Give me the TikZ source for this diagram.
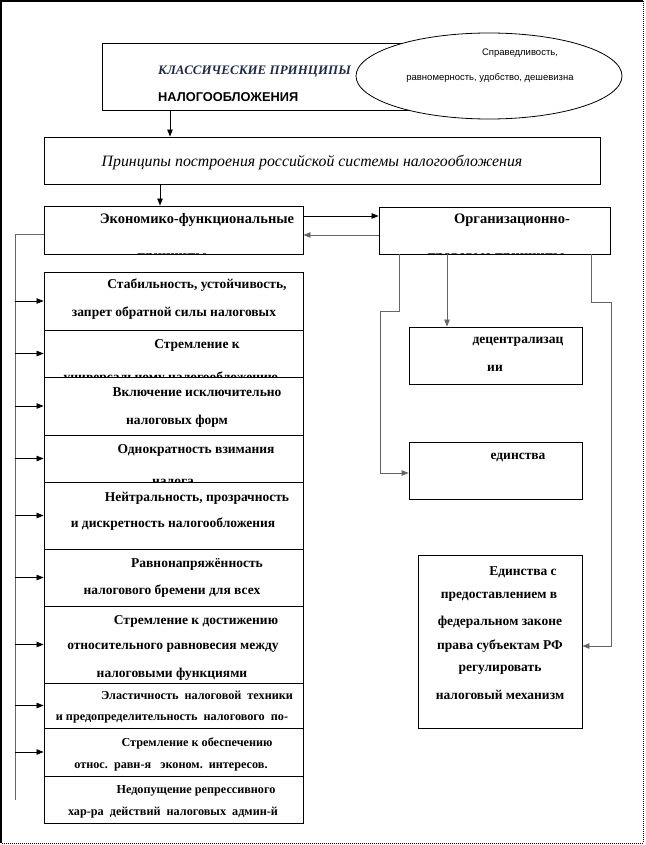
\documentclass[tikz,border=0pt]{standalone}
\usepackage{fontspec}
\setmainfont{Liberation Serif}
\newfontfamily\sansf{Liberation Sans}
\usetikzlibrary{arrows.meta,shapes.geometric}
\definecolor{navy}{HTML}{1F2A44}
\definecolor{lgray}{HTML}{666666}
\tikzset{
  box/.style={draw=black, line width=0.9pt, inner sep=0, fill=none},
  t/.style={inner sep=0, font=\bfseries\fontsize{13.5}{15}\selectfont},
  ts/.style={inner sep=0, font=\bfseries\fontsize{12.2}{14}\selectfont},
  arr/.style={line width=0.8pt, -{Triangle[length=7pt,width=5.5pt]}},
  ln/.style={line width=0.8pt, draw=lgray},
}
\begin{document}
\begin{tikzpicture}[x=1pt,y=-1pt]
\useasboundingbox (0,0) rectangle (645,845);
% frame
\draw[line width=1.6pt] (1,843) -- (1,1) -- (643,1);
\draw[line width=1pt, densely dotted] (643,1) -- (643,843) -- (1,843);

% top box and ellipse
\node[box, minimum width=418pt, minimum height=67pt] (top) at (311,76.5) {};
\node[draw=black, line width=0.8pt, fill=white, ellipse, inner sep=0, minimum width=266pt, minimum height=86pt] (ell) at (489,76) {};
\node[inner sep=0, anchor=west, text=navy, font=\bfseries\itshape\fontsize{13}{15}\selectfont] (t1) at (158,72) {КЛАССИЧЕСКИЕ ПРИНЦИПЫ};
\node[inner sep=0, anchor=west, font=\sansf\bfseries\fontsize{12.8}{14}\selectfont] (t2) at (158,97) {НАЛОГООБЛОЖЕНИЯ};
\node[inner sep=0, font=\sansf\fontsize{9.5}{11}\selectfont] (e1) at (520,53) {Справедливость,};
\node[inner sep=0, font=\sansf\fontsize{9.5}{11}\selectfont] (e2) at (490,78) {равномерность, удобство, дешевизна};

% second box
\node[box, minimum width=556pt, minimum height=47pt] (sec) at (322,160.5) {};
\node[inner sep=0, font=\itshape\fontsize{15.8}{17}\selectfont] (st) at (312,163) {Принципы построения российской системы налогообложения};

% header boxes
\node[box, minimum width=259pt, minimum height=48pt] (ek) at (173.5,230) {};
\node[box, minimum width=231pt, minimum height=47pt] (org) at (494.5,230.5) {};
\begin{scope}
\clip (44,206) rectangle (303,254);
\node[inner sep=0, font=\bfseries\fontsize{14.5}{16}\selectfont] (ek1) at (197,220) {Экономико-функциональные};
\node[inner sep=0, font=\bfseries\fontsize{14.5}{16}\selectfont] (ek2) at (172,259) {принципы};
\end{scope}
\begin{scope}
\clip (379,207) rectangle (610,254);
\node[inner sep=0, font=\bfseries\fontsize{14.5}{16}\selectfont] (or1) at (512,220) {Организационно-};
\node[inner sep=0, font=\bfseries\fontsize{14.5}{16}\selectfont] (or2) at (496,259) {правовые принципы};
\end{scope}

% left column boxes
\node[box, minimum width=259pt, minimum height=58pt] (b1) at (173.5,301) {};
\node[box, minimum width=259pt, minimum height=47pt] (b2) at (173.5,353.5) {};
\node[box, minimum width=259pt, minimum height=58pt] (b3) at (173.5,406) {};
\node[box, minimum width=259pt, minimum height=47pt] (b4) at (173.5,458.5) {};
\node[box, minimum width=259pt, minimum height=67pt] (b5) at (173.5,515.5) {};
\node[box, minimum width=259pt, minimum height=57pt] (b6) at (173.5,577.5) {};
\node[box, minimum width=259pt, minimum height=77pt] (b7) at (173.5,644.5) {};
\node[box, minimum width=259pt, minimum height=45pt] (b8) at (173.5,705.5) {};
\node[box, minimum width=259pt, minimum height=48pt] (b9) at (173.5,752) {};
\node[box, minimum width=259pt, minimum height=47pt] (b10) at (173.5,799.5) {};

\node[t] (l1a) at (197,285) {Стабильность, устойчивость,};
\node[t] (l1b) at (174,313) {запрет обратной силы налоговых};
\begin{scope}
\clip (44,330) rectangle (303,377);
\node[t] (l2a) at (197,345) {Стремление к};
\node[t] (l2b) at (171,378) {универсальному налогообложению};
\end{scope}
\node[t] (l3a) at (197,392) {Включение исключительно};
\node[t] (l3b) at (177,421) {налоговых форм};
\begin{scope}
\clip (44,435) rectangle (303,482);
\node[t] (l4a) at (196,450) {Однократность взимания};
\node[t] (l4b) at (173,482) {налога};
\end{scope}
\node[t] (l5a) at (197,498) {Нейтральность, прозрачность};
\node[t] (l5b) at (173,524) {и дискретность налогообложения};
\node[t] (l6a) at (197,564) {Равнонапряжённость};
\node[t] (l6b) at (172,591) {налогового бремени для всех};
\node[t] (l7a) at (196,621) {Стремление к достижению};
\node[t] (l7b) at (173,648) {относительного равновесия между};
\node[t] (l7c) at (172,674) {налоговыми функциями};
\node[ts] (l8a) at (197,695) {Эластичность\ \ налоговой\ \ техники};
\node[ts] (l8b) at (172,719) {и предопределительность\ \ налогового\ \ по-};
\node[ts] (l9a) at (197,743) {Стремление к обеспечению};
\node[ts] (l9b) at (171,767) {относ.\ \ равн-я\ \ \ эконом.\ \ интересов.};
\node[ts] (l10a) at (196,791) {Недопущение репрессивного};
\node[ts] (l10b) at (173,813) {хар-ра\ \ действий\ \ налоговых\ \ админ-й};

% right boxes
\node[box, minimum width=173pt, minimum height=57pt] (dec) at (495.5,355.5) {};
\node[box, minimum width=173pt, minimum height=57pt] (ed) at (495.5,470.5) {};
\node[box, minimum width=164pt, minimum height=173pt] (es) at (500,641.5) {};
\node[t] (d1) at (518,342) {децентрализац};
\node[t] (d2) at (495,368) {ии};
\node[t] (ed1) at (518,457) {единства};
\node[t] (s1) at (523,572) {Единства с};
\node[t] (s2) at (499,597) {предоставлением в};
\node[t] (s3) at (500,622) {федеральном законе};
\node[t] (s4) at (500,646) {права субъектам РФ};
\node[t] (s5) at (500,670) {регулировать};
\node[t] (s6) at (500,695) {налоговый механизм};

% connectors top
\draw[arr] (170,0 |- top.south) -- (170,0 |- sec.north);
\draw[arr] (160,0 |- sec.south) -- (160,0 |- ek.north);
\draw[arr] (ek.east |- 0,216) -- (org.west |- 0,216);
\draw[arr, draw=lgray] (org.west |- 0,235) -- (ek.east |- 0,235);

% trunk
\coordinate (tr) at (15,234);
\coordinate (trend) at (15,800);
\draw[ln] (ek.west |- tr) -- (tr) -- (trend);
\foreach \b in {b1,b2,b3,b4,b5,b6,b7,b8,b9}
  \draw[arr] (tr |- \b.west) -- (\b.west);

% right connectors
\coordinate (r1) at (399,311);
\coordinate (r2) at (380,311);
\draw[ln, -{Triangle[length=7pt,width=5.5pt]}] (r1 |- org.south) -- (r1) -- (r2) -- (r2 |- 0,473) -- (ed.west |- 0,473);
\draw[ln, -{Triangle[length=7pt,width=5.5pt]}] (447,0 |- org.south) -- (447,0 |- dec.north);
\coordinate (q1) at (591,302);
\coordinate (q2) at (611,302);
\draw[ln, -{Triangle[length=7pt,width=5.5pt]}] (q1 |- org.south) -- (q1) -- (q2) -- (q2 |- 0,646) -- (es.east |- 0,646);
\end{tikzpicture}
\end{document}
